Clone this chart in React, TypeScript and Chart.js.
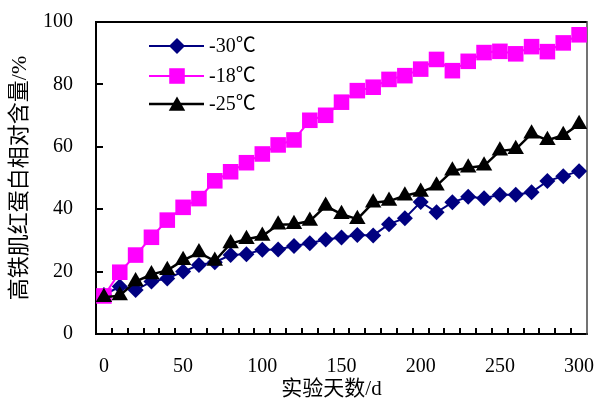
import React, { useEffect, useRef } from "react";
import { Chart, registerables } from "chart.js";

Chart.register(...registerables);

// ---- data ----
const days = [0, 10, 20, 30, 40, 50, 60, 70, 80, 90, 100, 110, 120, 130, 140, 150, 160, 170, 180, 190, 200, 210, 220, 230, 240, 250, 260, 270, 280, 290, 300];
const seriesMinus30 = [12.5, 15.2, 14.1, 16.8, 17.8, 20, 22.1, 23, 25.3, 25.6, 27, 27.1, 28.2, 29.1, 30.3, 30.9, 31.7, 31.6, 35.2, 37.1, 42.3, 39, 42.2, 44, 43.5, 44.6, 44.6, 45.4, 49, 50.6, 52.2];
const seriesMinus18 = [12.2, 19.8, 25.3, 31, 36.5, 40.6, 43.4, 49.1, 52, 54.9, 57.7, 60.6, 62.2, 68.5, 70.1, 74.3, 78, 79.1, 81.6, 82.8, 84.9, 88, 84.4, 87.4, 90.2, 90.6, 89.8, 92.1, 90.5, 93.3, 95.9];
const seriesMinus25 = [11.8, 12.3, 16.8, 19.1, 20.4, 23.6, 26.1, 23.4, 29, 30.4, 31.4, 35, 35.2, 36.2, 41, 38.4, 36.8, 42.1, 42.6, 44.3, 45.5, 47.5, 52.3, 53.3, 53.9, 58.7, 59.2, 64.2, 62.1, 63.7, 67.2];
const legendLabels = ["-30℃", "-18℃", "-25℃"];
const xTickLabels = [0, 50, 100, 150, 200, 250, 300];
const yTickLabels = [0, 20, 40, 60, 80, 100];
const xMinorTicks = [5, 15, 25, 35, 45, 55, 65, 75, 85, 95, 105, 115, 125, 135, 145, 155, 165, 175, 185, 195, 205, 215, 225, 235, 245, 255, 265, 275, 285, 295];
const xTitle = "实验天数/d";
const yTitle = "高铁肌红蛋白相对含量/%";

const FONT = "'Liberation Serif', 'Noto Sans CJK SC', serif";
const NAVY = "#000080";
const PINK = "#FF00FF";
const BLACK = "#000000";

const R_DIAMOND = 8;
const R_SQUARE = 11;
const R_TRIANGLE = 9.5;

type Marker = "diamond" | "square" | "triangle";

function drawMarker(ctx: CanvasRenderingContext2D, kind: Marker, x: number, y: number, color: string) {
  ctx.save();
  ctx.fillStyle = color;
  ctx.beginPath();
  if (kind === "diamond") {
    const r = R_DIAMOND;
    ctx.moveTo(x, y - r);
    ctx.lineTo(x + r, y);
    ctx.lineTo(x, y + r);
    ctx.lineTo(x - r, y);
  } else if (kind === "square") {
    const h = R_SQUARE * Math.SQRT1_2;
    ctx.rect(x - h, y - h, 2 * h, 2 * h);
  } else {
    const r = R_TRIANGLE;
    ctx.moveTo(x, y - r);
    ctx.lineTo(x + r * 0.866, y + r / 2);
    ctx.lineTo(x - r * 0.866, y + r / 2);
  }
  ctx.closePath();
  ctx.fill();
  ctx.restore();
}

const framePlugin = {
  id: "frameAndLegend",
  beforeDatasetsDraw(chart: any) {
    const { ctx, chartArea } = chart;
    const { left, right, top, bottom } = chartArea;
    const xs = chart.scales.x;
    const ys = chart.scales.y;
    ctx.save();
    ctx.strokeStyle = "#000";
    ctx.lineWidth = 2;
    // inner ticks
    ctx.beginPath();
    xMinorTicks.forEach((v) => {
      const px = Math.round(xs.getPixelForValue(v));
      ctx.moveTo(px, bottom);
      ctx.lineTo(px, bottom - 6);
    });
    yTickLabels.forEach((v) => {
      const py = Math.round(ys.getPixelForValue(v));
      ctx.moveTo(left, py);
      ctx.lineTo(left + 7, py);
    });
    ctx.stroke();
    // frame
    ctx.beginPath();
    ctx.moveTo(left, top);
    ctx.lineTo(right, top);
    ctx.moveTo(left, top - 1);
    ctx.lineTo(left, bottom + 1);
    ctx.moveTo(left - 1, bottom);
    ctx.lineTo(right + 1, bottom);
    ctx.stroke();
    ctx.strokeStyle = "#444";
    ctx.lineWidth = 1.5;
    ctx.beginPath();
    ctx.moveTo(right, top - 1);
    ctx.lineTo(right, bottom + 1);
    ctx.stroke();
    ctx.restore();
  },
  afterDraw(chart: any) {
    const { ctx, chartArea } = chart;
    const { left, right, top } = chartArea;
    const rows: { label: string; color: string; marker: Marker; width: number }[] = [
      { label: legendLabels[0], color: NAVY, marker: "diamond", width: 2 },
      { label: legendLabels[1], color: PINK, marker: "square", width: 2 },
      { label: legendLabels[2], color: BLACK, marker: "triangle", width: 2.5 },
    ];
    const rowY = [top + 24, top + 54, top + 82];
    ctx.save();
    rows.forEach((r, i) => {
      const y = rowY[i];
      ctx.strokeStyle = r.color;
      ctx.lineWidth = r.width;
      ctx.beginPath();
      ctx.moveTo(left + 53, y);
      ctx.lineTo(left + 108, y);
      ctx.stroke();
      drawMarker(ctx, r.marker, left + 81, r.marker === "triangle" ? y + 2 : y, r.color);
      ctx.fillStyle = "#000";
      ctx.font = `20px ${FONT}`;
      ctx.textAlign = "left";
      ctx.textBaseline = "middle";
      ctx.fillText(r.label, left + 113, y + 1);
    });
    // x axis title
    ctx.fillStyle = "#000";
    ctx.font = `21px ${FONT}`;
    ctx.textAlign = "center";
    ctx.textBaseline = "middle";
    ctx.fillText(xTitle, (left + right) / 2 - 10, 389);
    ctx.restore();
  },
};

export default function App() {
  const canvasRef = useRef<HTMLCanvasElement | null>(null);

  useEffect(() => {
    const canvas = canvasRef.current;
    if (!canvas) return;
    const mk = (vals: number[]) => days.map((d, i) => ({ x: d, y: vals[i] }));
    const chart = new Chart(canvas, {
      type: "line",
      data: {
        datasets: [
          {
            label: legendLabels[0],
            data: mk(seriesMinus30),
            borderColor: NAVY,
            backgroundColor: NAVY,
            borderWidth: 2,
            pointStyle: "rectRot",
            pointRadius: R_DIAMOND,
            pointBorderWidth: 0,
            tension: 0,
            order: 3,
          },
          {
            label: legendLabels[1],
            data: mk(seriesMinus18),
            borderColor: PINK,
            backgroundColor: PINK,
            borderWidth: 2,
            pointStyle: "rect",
            pointRadius: R_SQUARE,
            pointBorderWidth: 0,
            tension: 0,
            order: 2,
          },
          {
            label: legendLabels[2],
            data: mk(seriesMinus25),
            borderColor: BLACK,
            backgroundColor: BLACK,
            borderWidth: 2.5,
            pointStyle: "triangle",
            pointRadius: R_TRIANGLE,
            pointBorderWidth: 0,
            tension: 0,
            order: 1,
          },
        ],
      },
      options: {
        responsive: false,
        animation: false,
        events: [],
        layout: { padding: { top: 22, right: 10, left: 0, bottom: 0 } },
        plugins: { legend: { display: false }, tooltip: { enabled: false } },
        scales: {
          x: {
            type: "linear",
            min: -5,
            max: 305,
            afterBuildTicks: (s: any) => {
              s.ticks = xTickLabels.map((v) => ({ value: v }));
            },
            afterFit: (s: any) => {
              s.height = 71;
              s.paddingLeft = 0;
              s.paddingRight = 0;
            },
            grid: { display: false, drawTicks: false },
            border: { display: false },
            ticks: {
              color: "#000",
              font: { family: FONT, size: 20 },
              padding: 21,
              maxRotation: 0,
              autoSkip: false,
              callback: (v: any) => String(v),
            },
            title: { display: false },
          },
          y: {
            type: "linear",
            min: 0,
            max: 100,
            afterBuildTicks: (s: any) => {
              s.ticks = yTickLabels.map((v) => ({ value: v }));
            },
            afterFit: (s: any) => {
              s.width = 96;
              s.paddingTop = 0;
              s.paddingBottom = 0;
            },
            grid: { display: false, drawTicks: false },
            border: { display: false },
            ticks: {
              color: "#000",
              font: { family: FONT, size: 20 },
              padding: 23,
              autoSkip: false,
              callback: (v: any) => String(v),
            },
            title: {
              display: true,
              text: yTitle,
              color: "#000",
              font: { family: FONT, size: 22 },
              padding: { top: 7, bottom: 0 },
            },
          },
        },
      },
      plugins: [framePlugin],
    } as any);
    return () => chart.destroy();
  }, []);

  return (
    <div style={{ position: "absolute", left: 0, top: 0, width: 598, height: 405, background: "#fff" }}>
      <canvas ref={canvasRef} width={598} height={405} style={{ display: "block" }} />
    </div>
  );
}
